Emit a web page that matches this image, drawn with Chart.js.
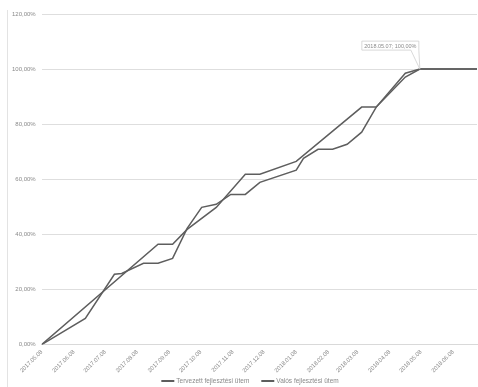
<!DOCTYPE html>
<html lang="hu">

<head>
    <meta charset="UTF-8">
    <title>Fejlesztési ütem</title>
    <script src="https://cdn.jsdelivr.net/npm/chart.js"></script>
    <style>
        html, body { margin: 0; padding: 0; background: #fff; }
        #wrap { width: 478px; height: 387px; }
    </style>
</head>

<body>
    <div id="wrap">
        <canvas id="utem" width="478" height="387"></canvas>
    </div>

<script>
    // adatok
    const tickLabels = ['2017.05.08', '2017.06.08', '2017.07.08', '2017.08.08', '2017.09.08', '2017.10.08', '2017.11.08',
        '2017.12.08', '2018.01.08', '2018.02.08', '2018.03.08', '2018.04.08', '2018.05.08', '2018.06.08'];

    const tervDatumok = ['2017-05-08', '2017-08-28', '2017-09-11', '2017-09-25', '2017-10-23', '2017-11-20', '2017-12-04',
        '2018-01-08', '2018-03-12', '2018-03-26', '2018-04-23', '2018-05-07', '2018-07-01'];
    const tervErtekek = [0, 36.4, 36.4, 41.8, 49.8, 61.8, 61.8, 66.5, 86.2, 86.2, 97.1, 100, 100];

    const valosDatumok = ['2017-05-08', '2017-06-19', '2017-07-17', '2017-07-24', '2017-08-14', '2017-08-28', '2017-09-11',
        '2017-09-25', '2017-10-09', '2017-10-23', '2017-11-06', '2017-11-20', '2017-12-04', '2018-01-08', '2018-01-15',
        '2018-01-29', '2018-02-12', '2018-02-26', '2018-03-12', '2018-03-26', '2018-04-23', '2018-05-07', '2018-07-01'];
    const valosErtekek = [0, 9.5, 25.5, 25.8, 29.5, 29.5, 31.3, 42.2, 49.8, 50.9, 54.5, 54.5, 58.9, 63.3, 67.6,
        70.9, 70.9, 72.7, 77.1, 86.2, 98.5, 100, 100];

    const seriesNames = ['Tervezett fejlesztési ütem', 'Valós fejlesztési ütem'];
    const cimke = { datum: '2018-05-07', ertek: 100, szoveg: '2018.05.07; 100,00%' };

    const start = Date.UTC(2017, 4, 8);
    function napok(s) {
        const p = s.split(/[-.]/).map(Number);
        return Math.round((Date.UTC(p[0], p[1] - 1, p[2]) - start) / 86400000);
    }
    const tickNapok = tickLabels.map(napok);

    function pontok(datumok, ertekek) {
        return datumok.map((d, i) => ({ x: napok(d), y: ertekek[i] }));
    }

    const szin = '#5e5e5e';
    const szoveg = '#8a8a8a';
    const betu = 'Liberation Sans, Arial, sans-serif';

    // keret, adatcímke és jelmagyarázat
    const cimkePlugin = {
        id: 'cimke',
        beforeDraw(chart) {
            const c = chart.ctx;
            c.save();
            c.strokeStyle = '#e3e3e3';
            c.lineWidth = 1;
            c.beginPath();
            c.moveTo(7.5, 10);
            c.lineTo(7.5, chart.height);
            c.stroke();
            c.restore();
        },
        afterDatasetsDraw(chart) {
            const c = chart.ctx;
            const px = chart.scales.x.getPixelForValue(napok(cimke.datum));
            const py = chart.scales.y.getPixelForValue(cimke.ertek);
            const w = 57, h = 9;
            const bx = px - 58, by = py - 28;
            c.save();
            c.fillStyle = '#fff';
            c.strokeStyle = '#cfcfcf';
            c.lineWidth = 0.8;
            c.beginPath();
            c.moveTo(bx, by);
            c.lineTo(bx + w, by);
            c.lineTo(bx + w, by + h);
            c.lineTo(px, py);
            c.lineTo(px - 9, by + h);
            c.lineTo(bx, by + h);
            c.closePath();
            c.fill();
            c.stroke();
            c.fillStyle = szoveg;
            c.font = '5.5px ' + betu;
            c.textAlign = 'center';
            c.textBaseline = 'middle';
            c.fillText(cimke.szoveg, bx + w / 2, by + h / 2 + 0.5);
            c.restore();
        },
        afterDraw(chart) {
            const c = chart.ctx;
            const y = 381;
            c.save();
            c.font = '6.5px ' + betu;
            c.textBaseline = 'middle';
            const szelek = chart.data.datasets.map(d => 15 + c.measureText(d.label).width);
            const teljes = szelek.reduce((a, b) => a + b, 0) + 12 * (szelek.length - 1);
            let x = 250 - teljes / 2;
            chart.data.datasets.forEach((d, i) => {
                c.strokeStyle = d.borderColor;
                c.lineWidth = 2;
                c.beginPath();
                c.moveTo(x, y);
                c.lineTo(x + 13, y);
                c.stroke();
                c.fillStyle = szoveg;
                c.fillText(d.label, x + 15, y);
                x += szelek[i] + 12;
            });
            c.restore();
        }
    };

    new Chart(document.getElementById('utem'), {
        type: 'line',
        data: {
            datasets: [{
                label: seriesNames[0],
                data: pontok(tervDatumok, tervErtekek),
                borderColor: szin,
                backgroundColor: szin,
                borderWidth: 1.5,
                pointRadius: 0,
                tension: 0
            }, {
                label: seriesNames[1],
                data: pontok(valosDatumok, valosErtekek),
                borderColor: szin,
                backgroundColor: szin,
                borderWidth: 1.5,
                pointRadius: 0,
                tension: 0
            }]
        },
        options: {
            responsive: false,
            animation: false,
            layout: { padding: { left: 6, right: 1, top: 14, bottom: 12 } },
            scales: {
                x: {
                    type: 'linear',
                    min: 0,
                    max: napok('2018-07-01'),
                    afterBuildTicks(scale) {
                        scale.ticks = tickNapok.map(v => ({ value: v }));
                    },
                    grid: { display: false, drawTicks: true, tickLength: 3, tickColor: '#d9d9d9' },
                    border: { color: '#d9d9d9' },
                    ticks: {
                        autoSkip: false,
                        minRotation: 45,
                        maxRotation: 45,
                        padding: 1,
                        color: szoveg,
                        font: { family: betu, size: 5.8 },
                        callback(v) {
                            const i = tickNapok.indexOf(v);
                            return i >= 0 ? tickLabels[i] : '';
                        }
                    }
                },
                y: {
                    min: 0,
                    max: 120,
                    ticks: {
                        stepSize: 20,
                        color: szoveg,
                        padding: 6,
                        font: { family: betu, size: 6 },
                        callback: v => v.toFixed(2).replace('.', ',') + '%'
                    },
                    grid: { color: '#dedede', drawTicks: false },
                    border: { display: false }
                }
            },
            plugins: {
                legend: { display: false },
                tooltip: { enabled: false }
            }
        },
        plugins: [cimkePlugin]
    });
</script>

</body>

</html>
